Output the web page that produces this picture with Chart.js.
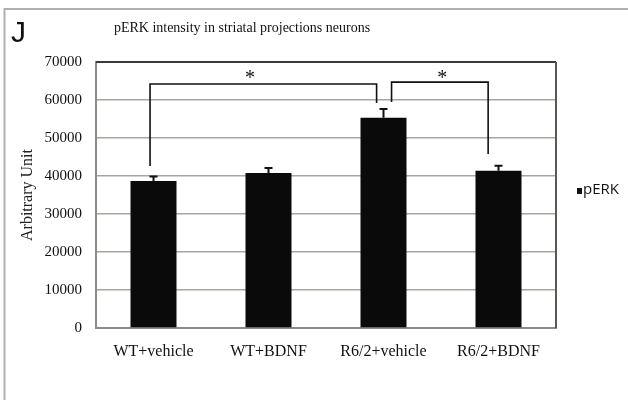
<!DOCTYPE html>
<html>
<head>
<meta charset="utf-8">
<script src="https://cdn.jsdelivr.net/npm/chart.js@4"></script>
<style>
  html, body { margin: 0; padding: 0; background: #fff; }
  #wrap { width: 628px; height: 400px; }
</style>
</head>
<body>
<div id="wrap"><canvas id="perkChart" width="628" height="400"></canvas></div>
<script>
const groups = ['WT+vehicle', 'WT+BDNF', 'R6/2+vehicle', 'R6/2+BDNF'];
const perk = [38700, 40800, 55300, 41400];
const perkErr = [1200, 1300, 2300, 1300];
const yTicks = [0, 10000, 20000, 30000, 40000, 50000, 60000, 70000];

// significance brackets: x as category positions, y in axis units
const bracketX = [[-0.03, 1.94], [2.07, 2.91]];
const bracketTop = [64200, 64700];
const bracketLegEnd = [[42600, 59200], [59500, 45800]];
const starX = [0.84, 2.51];
const starY = [66600, 66600];

const extras = {
    id: 'extras',
    beforeDraw(chart) {
        const c = chart.ctx;
        c.save();
        // page frame
        c.strokeStyle = '#b3afab';
        c.lineWidth = 2;
        c.beginPath();
        c.moveTo(628, 9);
        c.lineTo(4.5, 9);
        c.lineTo(4.5, 400);
        c.stroke();
        c.restore();
    },
    afterDatasetsDraw(chart) {
        const c = chart.ctx;
        const x = chart.scales.x, y = chart.scales.y;
        const area = chart.chartArea;
        c.save();
        // top and right frame of plot
        c.strokeStyle = '#3a3a3a';
        c.lineWidth = 2;
        c.beginPath();
        c.moveTo(area.left, area.top);
        c.lineTo(area.right, area.top);
        c.stroke();
        c.strokeStyle = '#5a5754';
        c.beginPath();
        c.moveTo(area.right, area.top);
        c.lineTo(area.right, area.bottom);
        c.stroke();

        // error bars (upper only)
        const meta = chart.getDatasetMeta(0);
        c.strokeStyle = '#111';
        c.lineWidth = 2;
        meta.data.forEach((bar, i) => {
            const top = y.getPixelForValue(perk[i] + perkErr[i]);
            c.beginPath();
            c.moveTo(bar.x, bar.y);
            c.lineTo(bar.x, top);
            c.moveTo(bar.x - 4, top);
            c.lineTo(bar.x + 4, top);
            c.stroke();
        });

        // brackets
        c.lineWidth = 1.6;
        bracketX.forEach((bx, i) => {
            const x1 = x.getPixelForValue(bx[0]);
            const x2 = x.getPixelForValue(bx[1]);
            const yt = y.getPixelForValue(bracketTop[i]);
            c.beginPath();
            c.moveTo(x1, y.getPixelForValue(bracketLegEnd[i][0]));
            c.lineTo(x1, yt);
            c.lineTo(x2, yt);
            c.lineTo(x2, y.getPixelForValue(bracketLegEnd[i][1]));
            c.stroke();
        });
        c.fillStyle = '#111';
        c.font = '20px "Liberation Serif"';
        c.textAlign = 'center';
        c.textBaseline = 'middle';
        starX.forEach((sx, i) => {
            c.fillText('*', x.getPixelForValue(sx), y.getPixelForValue(starY[i]) + 4);
        });

        // panel letter and title
        c.textAlign = 'left';
        c.textBaseline = 'alphabetic';
        c.font = '30px "Liberation Sans"';
        c.fillText('J', 11, 42);
        c.font = '14px "Liberation Serif"';
        c.textAlign = 'center';
        c.fillText('pERK intensity in striatal projections neurons', 242, 32);

        // legend
        c.fillRect(577, 188, 5, 6);
        c.textAlign = 'left';
        c.textBaseline = 'middle';
        c.font = '15px "Open Sans"';
        c.fillText('pERK', 583, 190);
        c.restore();
    }
};

const ctx = document.getElementById('perkChart').getContext('2d');
new Chart(ctx, {
    type: 'bar',
    data: {
        labels: groups,
        datasets: [{
            label: 'pERK',
            data: perk,
            backgroundColor: '#0a0a0a',
            borderWidth: 0,
            categoryPercentage: 0.8,
            barPercentage: 0.5
        }]
    },
    options: {
        responsive: false,
        animation: false,
        layout: { padding: { top: 62, right: 72, left: 0, bottom: 0 } },
        plugins: {
            legend: { display: false },
            title: { display: false },
            tooltip: { enabled: false }
        },
        scales: {
            x: {
                grid: { display: false, drawTicks: false },
                border: { color: '#8f8a85', width: 2 },
                ticks: {
                    color: '#111',
                    padding: 14,
                    maxRotation: 0,
                    font: { family: 'Liberation Serif', size: 16 }
                },
                afterFit(s) { s.height = 72; }
            },
            y: {
                min: 0,
                max: 70000,
                afterBuildTicks(s) { s.ticks = yTicks.map(v => ({ value: v })); },
                grid: { color: '#aaa59e', lineWidth: 1.5, drawTicks: false },
                border: { color: '#8f8a85', width: 2 },
                ticks: {
                    color: '#111',
                    padding: 14,
                    font: { family: 'Liberation Serif', size: 15 },
                    callback: v => String(v)
                },
                title: {
                    display: true,
                    text: 'Arbitrary Unit',
                    color: '#222',
                    padding: { top: 18, bottom: 0 },
                    font: { family: 'Liberation Serif', size: 16 }
                },
                afterFit(s) { s.width = 96; }
            }
        }
    },
    plugins: [extras]
});
</script>
</body>
</html>
